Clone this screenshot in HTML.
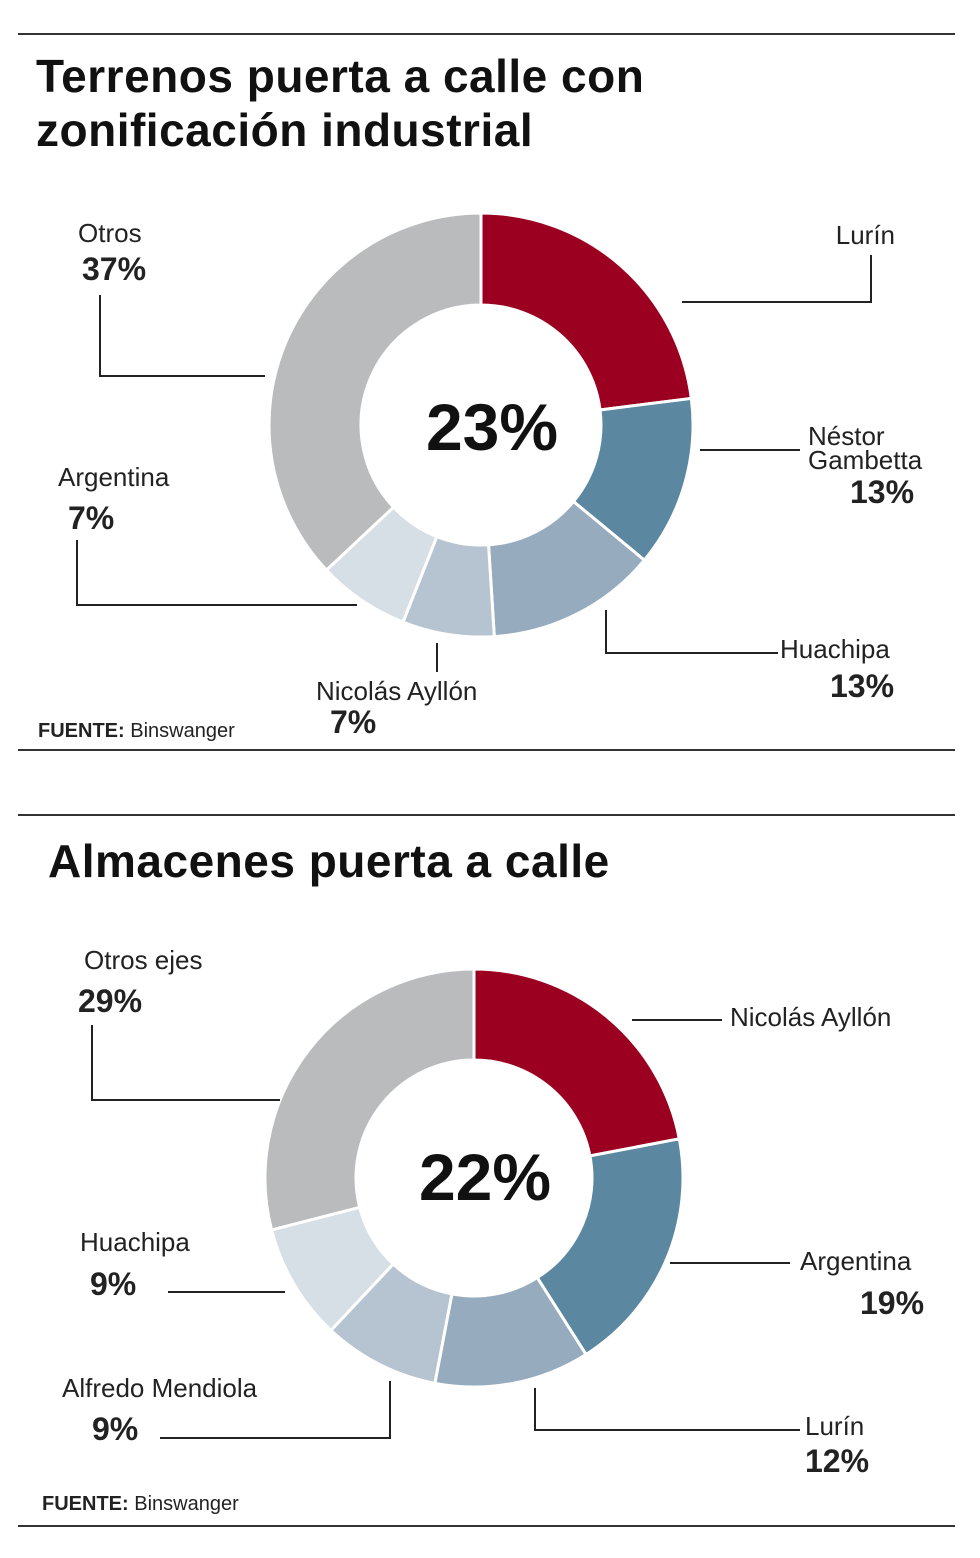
<!DOCTYPE html>
<html><head><meta charset="utf-8"><style>
body{margin:0;background:#fff;width:980px;height:1558px;overflow:hidden;font-family:"Liberation Sans",sans-serif}
svg{display:block}
</style></head><body>
<svg width="980" height="1558">
<g id="rules" stroke="#333" stroke-width="2">
<line x1="18" y1="34" x2="955" y2="34"/>
<line x1="18" y1="750" x2="955" y2="750"/>
<line x1="18" y1="815" x2="955" y2="815"/>
<line x1="18" y1="1526" x2="955" y2="1526"/>
</g>
<text x="36" y="92" font-size="46" font-weight="bold" fill="#111" letter-spacing="0.5">Terrenos puerta a calle con</text>
<text x="36" y="146" font-size="46" font-weight="bold" fill="#111" letter-spacing="0.5">zonificación industrial</text>
<text x="48" y="877" font-size="46" font-weight="bold" fill="#111" letter-spacing="0.5">Almacenes puerta a calle</text>
<text x="38" y="737" font-size="20" fill="#222"><tspan font-weight="bold">FUENTE:</tspan> Binswanger</text>
<text x="42" y="1510" font-size="20" fill="#222"><tspan font-weight="bold">FUENTE:</tspan> Binswanger</text>
<g id="c1"></g><g id="c2"></g>
<g stroke="#222" stroke-width="2" fill="none">
<polyline points="682,302 871,302 871,255"/>
<polyline points="700,450 800,450"/>
<polyline points="606,610 606,653 778,653"/>
<polyline points="437,643 437,672"/>
<polyline points="357,605 77,605 77,540"/>
<polyline points="265,376 100,376 100,295"/>
<polyline points="632,1020 722,1020"/>
<polyline points="670,1263 790,1263"/>
<polyline points="535,1388 535,1430 800,1430"/>
<polyline points="390,1381 390,1438 160,1438"/>
<polyline points="285,1292 168,1292"/>
<polyline points="280,1100 92,1100 92,1025"/>
</g>
<g fill="#222" font-size="26">
<text x="895" y="244" text-anchor="end">Lurín</text>
<text x="808" y="445">Néstor</text>
<text x="808" y="469">Gambetta</text>
<text x="850" y="503" font-size="32" font-weight="bold">13%</text>
<text x="780" y="658">Huachipa</text>
<text x="830" y="697" font-size="32" font-weight="bold">13%</text>
<text x="316" y="700">Nicolás Ayllón</text>
<text x="330" y="733" font-size="32" font-weight="bold">7%</text>
<text x="58" y="486">Argentina</text>
<text x="68" y="529" font-size="32" font-weight="bold">7%</text>
<text x="78" y="242">Otros</text>
<text x="82" y="280" font-size="32" font-weight="bold">37%</text>
<text x="730" y="1026">Nicolás Ayllón</text>
<text x="800" y="1270">Argentina</text>
<text x="860" y="1314" font-size="32" font-weight="bold">19%</text>
<text x="805" y="1435">Lurín</text>
<text x="805" y="1472" font-size="32" font-weight="bold">12%</text>
<text x="62" y="1397">Alfredo Mendiola</text>
<text x="92" y="1440" font-size="32" font-weight="bold">9%</text>
<text x="80" y="1251">Huachipa</text>
<text x="90" y="1295" font-size="32" font-weight="bold">9%</text>
<text x="84" y="969">Otros ejes</text>
<text x="78" y="1012" font-size="32" font-weight="bold">29%</text>
</g>
<text x="492" y="450" font-size="66" font-weight="bold" fill="#111" text-anchor="middle">23%</text>
<text x="485" y="1200" font-size="66" font-weight="bold" fill="#111" text-anchor="middle">22%</text>
</svg>
<script>
const cats1=["Lurín","Néstor Gambetta","Huachipa","Nicolás Ayllón","Argentina","Otros"];
const vals1=[23,13,13,7,7,37];
const cats2=["Nicolás Ayllón","Argentina","Lurín","Alfredo Mendiola","Huachipa","Otros ejes"];
const vals2=[22,19,12,9,9,29];
const colors=["#9b0020","#5b87a0","#96abbe","#b6c4d2","#d6dee6","#babbbd"];
const NS="http://www.w3.org/2000/svg";
function donut(gid,cats,vals,cx,cy,ro,ri){
  const g=document.getElementById(gid);
  const tot=vals.reduce((a,b)=>a+b,0);
  let a0=0;
  vals.forEach((v,i)=>{
    const a1=a0+v/tot*2*Math.PI;
    const p=(r,a)=>[cx+r*Math.sin(a),cy-r*Math.cos(a)];
    const [x1,y1]=p(ro,a0),[x2,y2]=p(ro,a1),[x3,y3]=p(ri,a1),[x4,y4]=p(ri,a0);
    const lg=(a1-a0)>Math.PI?1:0;
    const path=document.createElementNS(NS,"path");
    path.setAttribute("d",`M${x1},${y1}A${ro},${ro} 0 ${lg} 1 ${x2},${y2}L${x3},${y3}A${ri},${ri} 0 ${lg} 0 ${x4},${y4}Z`);
    path.setAttribute("fill",colors[i]);
    path.setAttribute("stroke","#fff");
    path.setAttribute("stroke-width","3");
    
    
    g.appendChild(path);
    a0=a1;
  });
}
donut("c1",cats1,vals1,481,425,212,120);
donut("c2",cats2,vals2,474,1178,209,118);
</script>
</body></html>
